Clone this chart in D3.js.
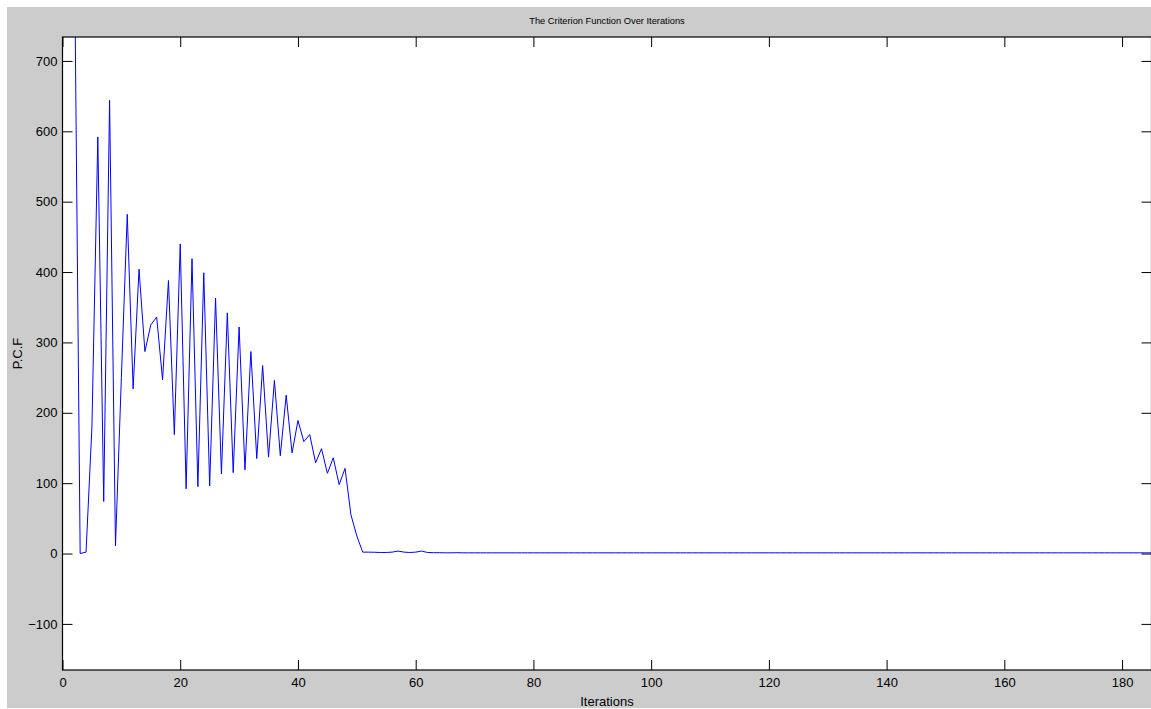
<!DOCTYPE html>
<html>
<head>
<meta charset="utf-8">
<script src="https://cdn.jsdelivr.net/npm/d3@7"></script>
<style>
  html, body { margin: 0; padding: 0; background: #ffffff; }
  svg { display: block; }
  text { font-family: "Liberation Sans", Arial, sans-serif; fill: #000; }
</style>
</head>
<body>
<svg id="chart" width="1151" height="709"></svg>
<script>
// ---------------- data ----------------
const titleText = "The Criterion Function Over Iterations";
const xLabelText = "Iterations";
const yLabelText = "P.C.F";
const xTicks = [0, 20, 40, 60, 80, 100, 120, 140, 160, 180];
const yTicks = [-100, 0, 100, 200, 300, 400, 500, 600, 700];
const xDomain = [0, 185];
const yDomain = [-165.5, 734];
const firstIteration = 1;
// P.C.F value at each iteration (iteration 1 .. 185)
const pcf = [
  960, 885, 0, 2, 180, 592, 74, 644, 11, 250,
  482, 234, 404, 287, 325, 336, 247, 388, 169, 440,
  92, 419, 95, 399, 96, 363, 113, 342, 115, 322,
  119, 287, 135, 267, 137, 246, 139, 225, 143, 189,
  159, 169, 129, 149, 114, 136, 98, 121, 55, 25,
  2, 2, 1.8, 1.5, 1.5, 2, 3.5, 2, 1.5, 2,
  3.5, 1.5, 1.2, 1.2, 1, 1, 1.2, 1, 1, 1,
  1, 1, 1, 1, 1, 1, 1, 1, 1, 1,
  1, 1, 1, 1, 1, 1, 1, 1, 1, 1,
  1, 1, 1, 1, 1, 1, 1, 1, 1, 1,
  1, 1, 1, 1, 1, 1, 1, 1, 1, 1,
  1, 1, 1, 1, 1, 1, 1, 1, 1, 1,
  1, 1, 1, 1, 1, 1, 1, 1, 1, 1,
  1, 1, 1, 1, 1, 1, 1, 1, 1, 1,
  1, 1, 1, 1, 1, 1, 1, 1, 1, 1,
  1, 1, 1, 1, 1, 1, 1, 1, 1, 1,
  1, 1, 1, 1, 1, 1, 1, 1, 1, 1,
  1, 1, 1, 1, 1, 1, 1, 1, 1, 1,
  1, 1, 1, 1, 1
];

// ---------------- layout ----------------
const W = 1151, H = 709;
const plot = { left: 62.5, right: 1151.5, top: 37, bottom: 670 };

const svg = d3.select("#chart");

// figure background (MATLAB grey), with thin white margin top/left
svg.append("rect").attr("x", 0).attr("y", 0).attr("width", W).attr("height", H).attr("fill", "#ffffff");
svg.append("rect").attr("x", 7).attr("y", 7).attr("width", W - 7).attr("height", H - 8).attr("fill", "#cccccc");

// axes area
svg.append("rect")
  .attr("x", plot.left).attr("y", plot.top)
  .attr("width", plot.right - plot.left).attr("height", plot.bottom - plot.top)
  .attr("fill", "#ffffff");

const x = d3.scaleLinear().domain(xDomain).range([plot.left, plot.right]);
const y = d3.scaleLinear().domain(yDomain).range([plot.bottom, plot.top]);

// clip
svg.append("defs").append("clipPath").attr("id", "clip")
  .append("rect")
  .attr("x", plot.left).attr("y", plot.top)
  .attr("width", plot.right - plot.left).attr("height", plot.bottom - plot.top);

// line
const pts = pcf.map((v, i) => ({ it: firstIteration + i, v }));
const line = d3.line().x(d => x(d.it)).y(d => y(d.v));
svg.append("path")
  .datum(pts)
  .attr("clip-path", "url(#clip)")
  .attr("fill", "none")
  .attr("stroke", "#0000ff")
  .attr("stroke-width", 1)
  .attr("stroke-linejoin", "miter")
  .attr("d", line);

// axes
function styleAxis(g) {
  g.select(".domain").remove();
  g.selectAll(".tick line").attr("stroke", "#000").attr("stroke-width", 1);
  g.selectAll(".tick text").style("font-size", "13px").attr("fill", "#000");
}

svg.append("g")
  .attr("transform", `translate(0,${plot.bottom})`)
  .call(d3.axisBottom(x).tickValues(xTicks).tickSize(-10).tickSizeOuter(0).tickPadding(8))
  .call(styleAxis);

svg.append("g")
  .attr("transform", `translate(0,${plot.top})`)
  .call(d3.axisTop(x).tickValues(xTicks).tickSize(-10).tickSizeOuter(0).tickFormat(""))
  .call(styleAxis);

svg.append("g")
  .attr("transform", `translate(${plot.left},0)`)
  .call(d3.axisLeft(y).tickValues(yTicks).tickSize(-10).tickSizeOuter(0).tickPadding(5))
  .call(styleAxis);

svg.append("g")
  .attr("transform", `translate(${plot.right},0)`)
  .call(d3.axisRight(y).tickValues(yTicks).tickSize(-10).tickSizeOuter(0).tickFormat(""))
  .call(styleAxis);

// box
svg.append("rect")
  .attr("x", plot.left).attr("y", plot.top)
  .attr("width", plot.right - plot.left).attr("height", plot.bottom - plot.top)
  .attr("fill", "none").attr("stroke", "#000").attr("stroke-width", 1.2);

// title and labels
const cx = (plot.left + plot.right) / 2;
svg.append("text")
  .attr("x", cx).attr("y", 24)
  .attr("text-anchor", "middle")
  .style("font-size", "9.3px")
  .text(titleText);

svg.append("text")
  .attr("x", cx).attr("y", 706)
  .attr("text-anchor", "middle")
  .style("font-size", "13px")
  .text(xLabelText);

svg.append("text")
  .attr("transform", `translate(22,${(plot.top + plot.bottom) / 2}) rotate(-90)`)
  .attr("text-anchor", "middle")
  .style("font-size", "13px")
  .text(yLabelText);
</script>
</body>
</html>
